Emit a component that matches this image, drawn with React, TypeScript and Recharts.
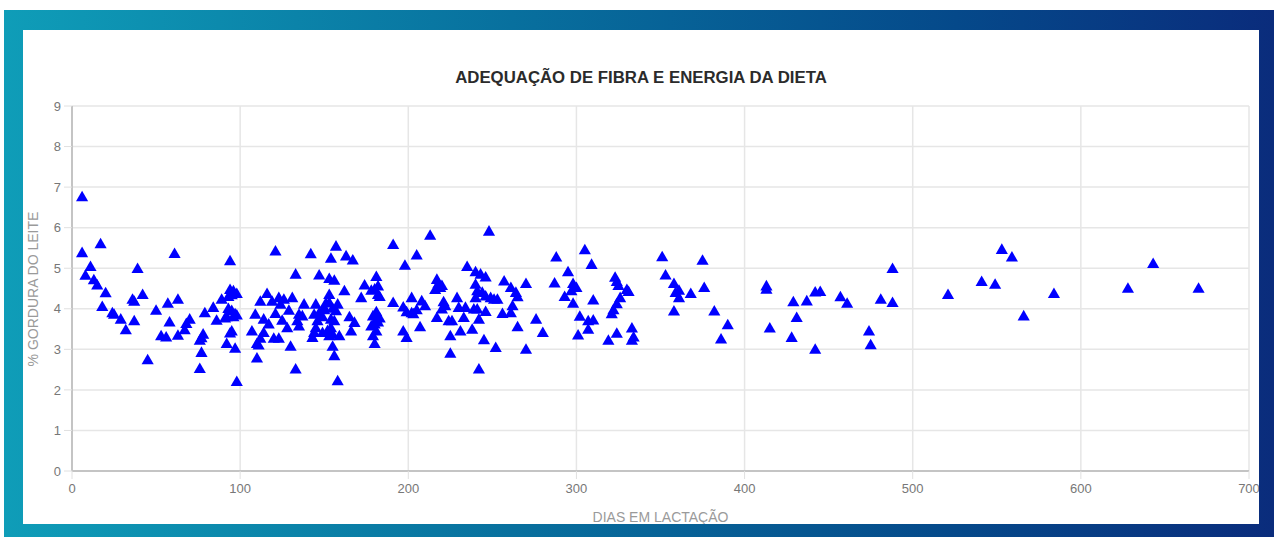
import React from "react";
import {
  ScatterChart,
  Scatter,
  XAxis,
  YAxis,
  ZAxis,
  CartesianGrid,
} from "recharts";

const chartTitle = "ADEQUAÇÃO DE FIBRA E ENERGIA DA DIETA";
const xAxisTitle = "DIAS EM LACTAÇÃO";
const yAxisTitle = "% GORDURA DO LEITE";

const xTicks = [0, 100, 200, 300, 400, 500, 600, 700];
const yTicks = [0, 1, 2, 3, 4, 5, 6, 7, 8, 9];

// Dias em lactação (x)
const diasEmLactacao = [
  6, 6, 17, 61, 11, 8, 13, 15, 39, 20, 42, 36, 37, 63, 57, 18, 24, 25, 29, 32, 37, 50, 58, 53, 56, 63, 67, 68, 70, 45,
  79, 84, 89, 86, 76, 78, 77, 77, 76, 98, 92, 97, 95, 94, 94, 94, 96, 95, 98, 93, 93, 95, 97, 92, 96, 98, 91,
  121, 142, 157, 154, 163, 167, 133, 147, 153, 156, 162, 116, 112, 123, 126, 131, 119, 124, 129, 138, 145, 153, 153, 158,
  150, 155, 109, 121, 135, 137, 144, 147, 114, 125, 134, 146, 154, 156, 165, 168, 117, 128, 135, 145, 154, 166, 107, 114,
  144, 149, 155, 159, 153, 143, 112, 120, 123, 110, 111, 130, 155, 156, 110, 133, 158, 150, 157, 151, 149, 152,
  181, 174, 178, 182, 182, 172, 183, 180, 179, 181, 182, 180, 183, 178, 181, 181, 179, 180, 191, 213, 205, 198, 191, 197,
  202, 199, 202, 205, 203, 208, 210, 197, 199, 207,
  217, 218, 219, 220, 216, 221, 222, 220, 217, 224, 226, 225, 225, 229, 230, 234, 233, 231, 235,
  248, 240, 243, 246, 240, 241, 244, 246, 249, 251, 253, 240, 239, 241, 246, 242, 238, 245, 252, 242, 257, 261, 264, 265,
  256, 261, 262, 265, 270, 270, 276, 280,
  288, 305, 309, 295, 287, 298, 300, 297, 293, 298, 310, 302, 307, 310, 307, 301, 323, 324, 325, 330, 331, 326, 324, 322,
  321, 319, 324, 333, 334, 333,
  351, 375, 353, 358, 361, 359, 361, 368, 376, 358, 382, 390, 386, 413, 413, 415, 429, 437, 442, 445, 431, 428, 442, 457,
  461, 474, 475, 481, 488, 488, 521, 541, 549, 553, 559, 566, 584, 628, 643, 670,
];

// % gordura do leite (y)
const gorduraLeite = [
  6.74, 5.36, 5.58, 5.34, 5.02, 4.8, 4.69, 4.56, 4.97, 4.37, 4.33, 4.21, 4.16, 4.21, 4.11, 4.03, 3.88, 3.84, 3.72, 3.46,
  3.68, 3.94, 3.65, 3.31, 3.28, 3.32, 3.46, 3.61, 3.72, 2.72,
  3.88, 4.01, 4.21, 3.69, 3.2, 3.35, 3.26, 2.9, 2.5, 2.18, 3.12, 3.0, 3.43, 3.38, 5.16, 4.45, 4.42, 4.32, 4.35, 4.28,
  3.98, 3.93, 3.85, 3.78, 3.78, 3.82, 3.75,
  5.4, 5.33, 5.52, 5.22, 5.28, 5.18, 4.83, 4.81, 4.72, 4.68, 4.42, 4.35, 4.16, 4.25, 4.21, 4.25, 4.16, 4.09, 3.94, 4.09,
  4.09, 4.33, 4.13, 4.09, 4.01, 3.99, 3.84, 3.86, 3.84, 3.8, 3.84, 3.88, 3.72, 3.69, 3.68, 3.68, 3.72, 3.68, 3.78, 3.64,
  3.6, 3.51, 3.55, 3.51, 3.51, 3.43, 3.43, 3.39, 3.39, 3.39, 3.35, 3.31, 3.31, 3.27, 3.25, 3.25, 3.25, 3.12, 3.08, 3.05,
  3.05, 2.82, 2.76, 2.49, 2.2, 3.95, 3.93, 4.12, 3.78, 3.44,
  4.77, 4.56, 4.43, 4.54, 4.33, 4.25, 4.28, 4.46, 3.8, 3.72, 3.65, 3.6, 3.75, 3.55, 3.9, 3.43, 3.31, 3.12, 5.56, 5.79,
  5.3, 5.05, 4.13, 4.02, 4.25, 3.9, 3.88, 3.95, 3.85, 4.17, 4.05, 3.43, 3.27, 3.53,
  4.7, 4.6, 4.5, 4.55, 4.45, 4.15, 4.05, 3.97, 3.76, 3.68, 3.68, 3.31, 2.88, 4.25, 4.01, 4.01, 3.76, 3.43, 5.02,
  5.89, 4.89, 4.83, 4.76, 4.58, 4.42, 4.38, 4.29, 4.25, 4.21, 4.21, 4.25, 3.97, 3.97, 3.91, 3.72, 3.47, 3.21, 3.02, 2.49,
  4.66, 4.5, 4.38, 4.27, 3.86, 3.88, 4.05, 3.53, 4.6, 2.98, 3.72, 3.39,
  5.25, 5.43, 5.07, 4.89, 4.61, 4.6, 4.5, 4.42, 4.28, 4.11, 4.19, 3.79, 3.68, 3.7, 3.47, 3.33, 4.75, 4.65, 4.55, 4.45,
  4.4, 4.25, 4.1, 3.95, 3.85, 3.2, 3.37, 3.5, 3.28, 3.2,
  5.26, 5.17, 4.81, 4.6, 4.43, 4.38, 4.25, 4.35, 4.5, 3.92, 3.92, 3.58, 3.23, 4.54, 4.46, 3.5, 4.15, 4.17, 4.39, 4.4,
  3.76, 3.27, 2.98, 4.27, 4.11, 3.43, 3.09, 4.21, 4.97, 4.13, 4.33, 4.65, 4.58, 5.44, 5.25, 3.8, 4.35, 4.48, 5.09, 4.48,
];

const data = diasEmLactacao.map((x, i) => ({ x, y: gorduraLeite[i] }));

const FONT = "'Liberation Sans', Arial, sans-serif";

export default function App() {
  return (
    <div
      style={{
        position: "absolute",
        left: 0,
        top: 0,
        width: 1274,
        height: 537,
        background: "#ffffff",
        overflow: "hidden",
        fontFamily: FONT,
      }}
    >
      <div
        style={{
          position: "absolute",
          left: 4,
          top: 10,
          width: 1270,
          height: 527,
          background: "linear-gradient(90deg, #0f9db8 0%, #08709e 40%, #05498a 75%, #0a2c7c 100%)",
        }}
      />
      <div
        style={{
          position: "absolute",
          left: 23,
          top: 30,
          width: 1236,
          height: 494,
          background: "#ffffff",
          overflow: "hidden",
        }}
      >
        <div
          style={{
            position: "absolute",
            left: 0,
            top: 38,
            width: 1236,
            textAlign: "center",
            fontSize: 16.8,
            lineHeight: "19px",
            fontWeight: "bold",
            color: "#2b2b2b",
            fontFamily: FONT,
          }}
        >
          {chartTitle}
        </div>
        <div
          style={{
            position: "absolute",
            left: 10,
            top: 259,
            width: 0,
            height: 0,
          }}
        >
          <div
            style={{
              position: "absolute",
              transform: "translate(-50%, -50%) rotate(-90deg)",
              whiteSpace: "nowrap",
              fontSize: 14,
              lineHeight: "16px",
              color: "#9a9a9a",
              fontFamily: FONT,
            }}
          >
            {yAxisTitle}
          </div>
        </div>
        <div
          style={{
            position: "absolute",
            left: 49,
            top: 479,
            width: 1177,
            textAlign: "center",
            fontSize: 14,
            lineHeight: "16px",
            color: "#9a9a9a",
            fontFamily: FONT,
          }}
        >
          {xAxisTitle}
        </div>
        <ScatterChart
          width={1236}
          height={494}
          margin={{ top: 76, right: 10, bottom: 23, left: 0 }}
          style={{ position: "absolute", left: 0, top: 0 }}
        >
          <CartesianGrid stroke="#e6e6e6" strokeWidth={1.5} />
          <XAxis
            type="number"
            dataKey="x"
            domain={[0, 700]}
            ticks={xTicks}
            interval={0}
            height={30}
            tickSize={8}
            tickMargin={5}
            axisLine={{ stroke: "#c4c4c4", strokeWidth: 2 }}
            tickLine={{ stroke: "#e0e0e0" }}
            tick={{ fill: "#777777", fontSize: 13, fontFamily: FONT }}
          />
          <YAxis
            type="number"
            dataKey="y"
            domain={[0, 9]}
            ticks={yTicks}
            interval={0}
            width={49}
            tickSize={8}
            tickMargin={3}
            axisLine={{ stroke: "#c4c4c4", strokeWidth: 2 }}
            tickLine={{ stroke: "#e0e0e0" }}
            tick={{ fill: "#777777", fontSize: 13, fontFamily: FONT }}
          />
          <ZAxis range={[45, 45]} />
          <Scatter data={data} fill="#0000ff" shape="triangle" isAnimationActive={false} />
        </ScatterChart>
      </div>
    </div>
  );
}
